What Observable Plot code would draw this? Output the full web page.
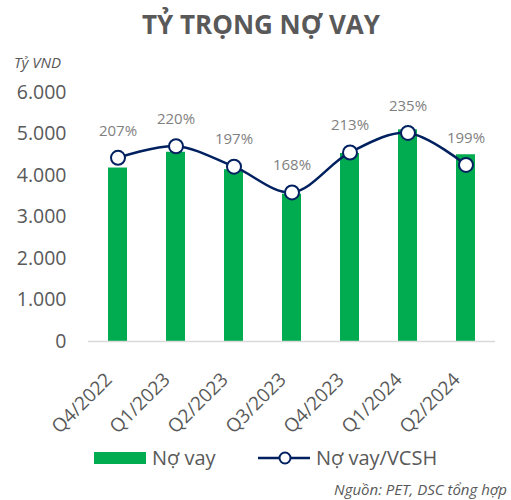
<!DOCTYPE html>
<html>
<head>
<meta charset="utf-8">
<script src="https://cdn.jsdelivr.net/npm/d3@7"></script>
<script src="https://cdn.jsdelivr.net/npm/@observablehq/plot@0.6"></script>
<style>
  html, body { margin: 0; padding: 0; background: #fff; }
  body { font-family: "Open Sans", sans-serif; }
  #wrap { position: relative; width: 511px; height: 500px; overflow: hidden; }
  #chart { position: absolute; left: 0; top: 0; }
  .abs { position: absolute; white-space: nowrap; }
  #title { left: 0; width: 522px; top: 6px; text-align: center; font-size: 26px; font-weight: 700; color: #595959; }
  #unit { left: 14px; top: 52px; font-size: 15px; font-style: italic; color: #595959; }
  #src { right: 4px; top: 479px; font-size: 15px; font-style: italic; color: #595959; }
  .leg { top: 444px; font-size: 20px; color: #595959; display: flex; align-items: center; }
</style>
</head>
<body>
<div id="wrap">
  <div id="title" class="abs">TỶ TRỌNG NỢ VAY</div>
  <div id="unit" class="abs">Tỷ VND</div>
  <div id="chart"></div>
  <div class="abs leg" style="left:94px;">
    <svg width="52" height="12" style="margin-right:6px"><rect x="0" y="0" width="52" height="12" fill="#00AC4F"/></svg>Nợ vay
  </div>
  <div class="abs leg" style="left:258px;">
    <svg width="54" height="16" style="margin-right:4px"><line x1="0" y1="8" x2="52" y2="8" stroke="#002060" stroke-width="2.5"/><circle cx="27" cy="8" r="5.5" fill="#fff" stroke="#002060" stroke-width="2"/></svg>Nợ vay/VCSH
  </div>
  <div id="src" class="abs">Nguồn: PET, DSC tổng hợp</div>
</div>
<script>
const quarters = ["Q4/2022", "Q1/2023", "Q2/2023", "Q3/2023", "Q4/2023", "Q1/2024", "Q2/2024"];
const debt = [4180, 4560, 4140, 3550, 4530, 5100, 4500];     // Nợ vay (tỷ VND)
const ratioPct = [207, 220, 197, 168, 213, 235, 199];       // Nợ vay/VCSH (%)
const yTicks = [0, 1000, 2000, 3000, 4000, 5000, 6000];
const leftMax = 6000;
const rightMax = 280.6;   // hidden secondary axis maximum (%)

const rows = quarters.map((q, i) => ({
  q, debt: debt[i], ratio: ratioPct[i],
  ratioY: ratioPct[i] / rightMax * leftMax
}));

const fmt = d => d3.format(",")(d).replace(/,/g, ".");

const chart = Plot.plot({
  width: 511,
  height: 500,
  marginTop: 92,
  marginBottom: 159,
  marginLeft: 88,
  marginRight: 16,
  style: { fontFamily: "Open Sans, sans-serif", background: "transparent", overflow: "visible" },
  x: { domain: quarters, paddingInner: 0.67, paddingOuter: 0.335, axis: null },
  y: { domain: [0, leftMax], axis: null },
  marks: [
    Plot.barY(rows, { x: "q", y: "debt", fill: "#00AC4F" }),
    Plot.ruleY([0], { stroke: "#d9d9d9", strokeWidth: 1.5 }),
    Plot.axisY({ ticks: yTicks, tickFormat: fmt, tickSize: 0, tickPadding: 22, fontSize: "19.5px", fill: "#595959", label: null }),
    Plot.text(quarters, { x: d => d, frameAnchor: "bottom", rotate: -45, textAnchor: "end", lineAnchor: "middle", dx: -9, dy: 35, fontSize: "19px", fill: "#595959" }),
    Plot.line(rows, { x: "q", y: "ratioY", stroke: "#002060", strokeWidth: 2.5, curve: "catmull-rom" }),
    Plot.dot(rows, { x: "q", y: "ratioY", r: 7, fill: "#fff", stroke: "#002060", strokeWidth: 2 }),
    Plot.text(rows, { x: "q", y: "ratioY", text: d => d.ratio + "%", dy: -27, fontSize: "15px", fill: "#7f7f7f" })
  ]
});
document.getElementById("chart").appendChild(chart);
</script>
</body>
</html>
